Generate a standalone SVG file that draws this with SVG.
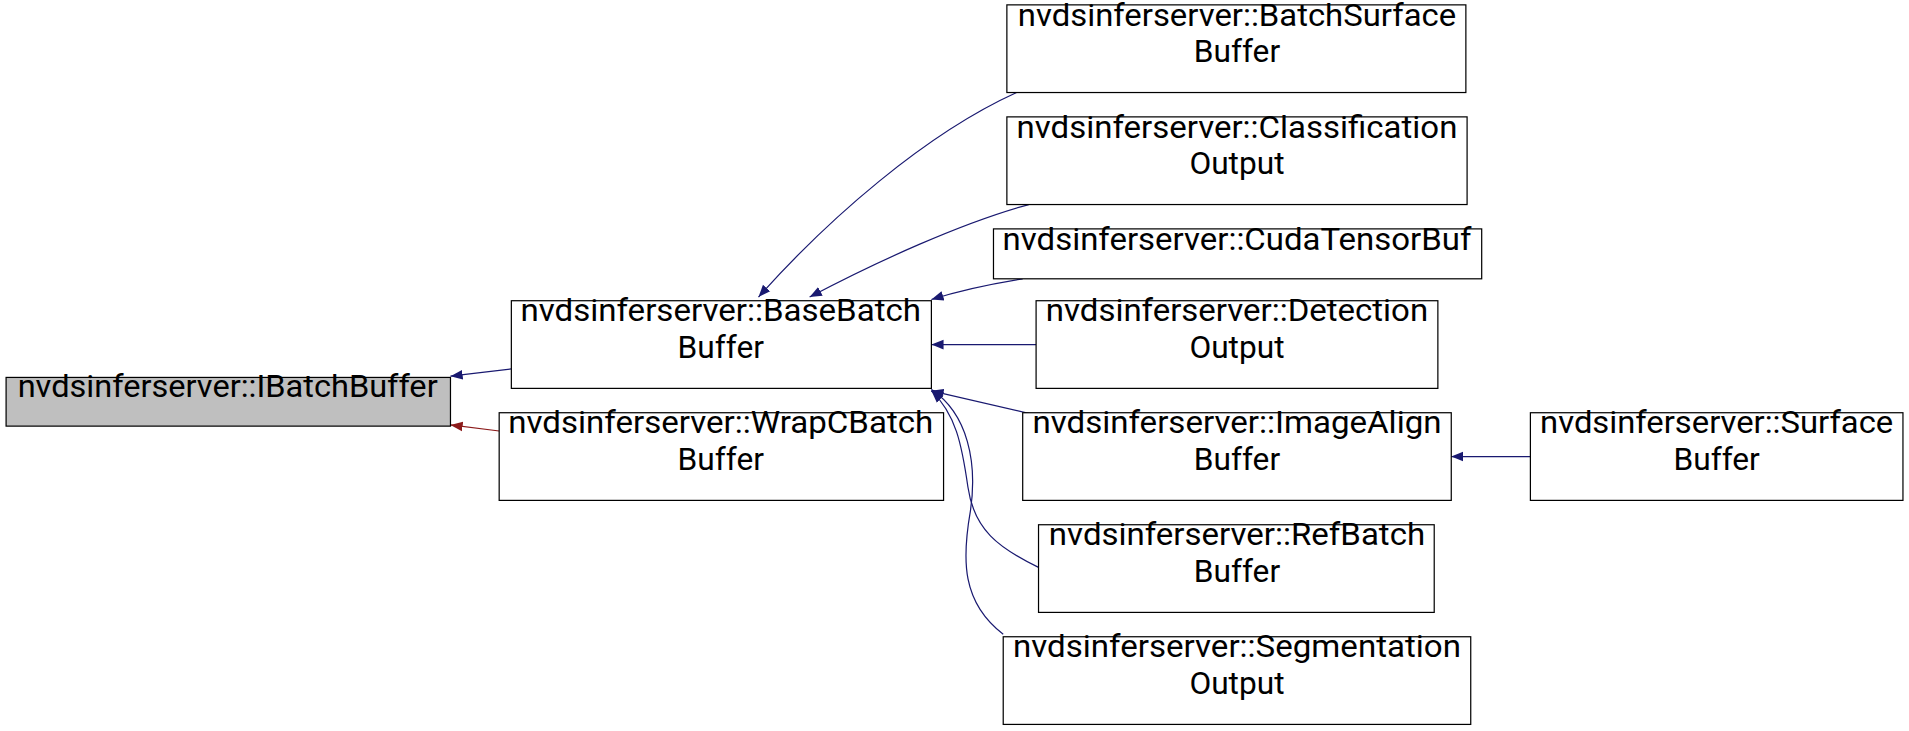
<svg xmlns="http://www.w3.org/2000/svg" width="1909" height="731" viewBox="0 0 1909 731">
<style>
rect{fill:#fff;stroke:#000;stroke-width:1}
text{font-family:Roboto,"Liberation Sans",sans-serif;font-size:26px;text-anchor:middle;fill:#000}
.e{fill:none;stroke:#191970;stroke-width:1}
.r{fill:none;stroke:#8b1a1a;stroke-width:1}
</style>
<defs>
<marker id="a" viewBox="0 0 10 10" refX="10" refY="5" markerWidth="10" markerHeight="10" markerUnits="userSpaceOnUse" orient="auto"><path d="M0,1 L10,5 L0,9 z" fill="#191970"/></marker>
<marker id="ar" viewBox="0 0 10 10" refX="10" refY="5" markerWidth="10" markerHeight="10" markerUnits="userSpaceOnUse" orient="auto"><path d="M0,1 L10,5 L0,9 z" fill="#8b1a1a"/></marker>
</defs>
<rect width="1909" height="731" style="fill:#fff;stroke:none"/>
<g transform="scale(1.2175)">
<g id="connectors">
<path class="e" marker-end="url(#a)" d="M420,303 L370,309"/>
<path class="r" marker-end="url(#ar)" d="M410,354 L370,349"/>
<path class="e" marker-end="url(#a)" d="M835,76 C760,110 680,180 623,244"/>
<path class="e" marker-end="url(#a)" d="M845,168 C790,183 720,215 665,244"/>
<path class="e" marker-end="url(#a)" d="M840,229 C815,233 790,238 765,246"/>
<path class="e" marker-end="url(#a)" d="M851,283 L765,283"/>
<path class="e" marker-end="url(#a)" d="M851,341 L765,321"/>
<path class="e" marker-end="url(#a)" d="M853,466 C820,450 800,435 795,400 C790,365 785,340 765,321"/>
<path class="e" marker-end="url(#a)" d="M824,521 C790,495 790,460 797,420 C803,380 795,340 765,320"/>
<path class="e" marker-end="url(#a)" d="M1257,375 L1192,375"/>
</g>
<g id="IBatchBuffer"><rect x="5" y="310" width="365" height="40" style="fill:#bfbfbf"/><text x="187" y="326" textLength="345" lengthAdjust="spacingAndGlyphs">nvdsinferserver::IBatchBuffer</text></g>
<g id="BaseBatchBuffer"><rect x="420" y="247" width="345" height="72"/><text x="592" y="264" textLength="329" lengthAdjust="spacingAndGlyphs">nvdsinferserver::BaseBatch</text><text x="592" y="294">Buffer</text></g>
<g id="WrapCBatchBuffer"><rect x="410" y="339" width="365" height="72"/><text x="592" y="356" textLength="349" lengthAdjust="spacingAndGlyphs">nvdsinferserver::WrapCBatch</text><text x="592" y="386">Buffer</text></g>
<g id="BatchSurfaceBuffer"><rect x="827" y="4" width="377" height="72"/><text x="1016" y="21" textLength="360" lengthAdjust="spacingAndGlyphs">nvdsinferserver::BatchSurface</text><text x="1016" y="51">Buffer</text></g>
<g id="ClassificationOutput"><rect x="827" y="96" width="378" height="72"/><text x="1016" y="113" textLength="362" lengthAdjust="spacingAndGlyphs">nvdsinferserver::Classification</text><text x="1016" y="143">Output</text></g>
<g id="CudaTensorBuf"><rect x="816" y="188" width="401" height="41"/><text x="1016" y="205" textLength="385" lengthAdjust="spacingAndGlyphs">nvdsinferserver::CudaTensorBuf</text></g>
<g id="DetectionOutput"><rect x="851" y="247" width="330" height="72"/><text x="1016" y="264" textLength="314" lengthAdjust="spacingAndGlyphs">nvdsinferserver::Detection</text><text x="1016" y="294">Output</text></g>
<g id="ImageAlignBuffer"><rect x="840" y="339" width="352" height="72"/><text x="1016" y="356" textLength="336" lengthAdjust="spacingAndGlyphs">nvdsinferserver::ImageAlign</text><text x="1016" y="386">Buffer</text></g>
<g id="SurfaceBuffer"><rect x="1257" y="339" width="306" height="72"/><text x="1410" y="356" textLength="290" lengthAdjust="spacingAndGlyphs">nvdsinferserver::Surface</text><text x="1410" y="386">Buffer</text></g>
<g id="RefBatchBuffer"><rect x="853" y="431" width="325" height="72"/><text x="1016" y="448" textLength="309" lengthAdjust="spacingAndGlyphs">nvdsinferserver::RefBatch</text><text x="1016" y="478">Buffer</text></g>
<g id="SegmentationOutput"><rect x="824" y="523" width="384" height="72"/><text x="1016" y="540" textLength="368" lengthAdjust="spacingAndGlyphs">nvdsinferserver::Segmentation</text><text x="1016" y="570">Output</text></g>
</g>
</svg>
